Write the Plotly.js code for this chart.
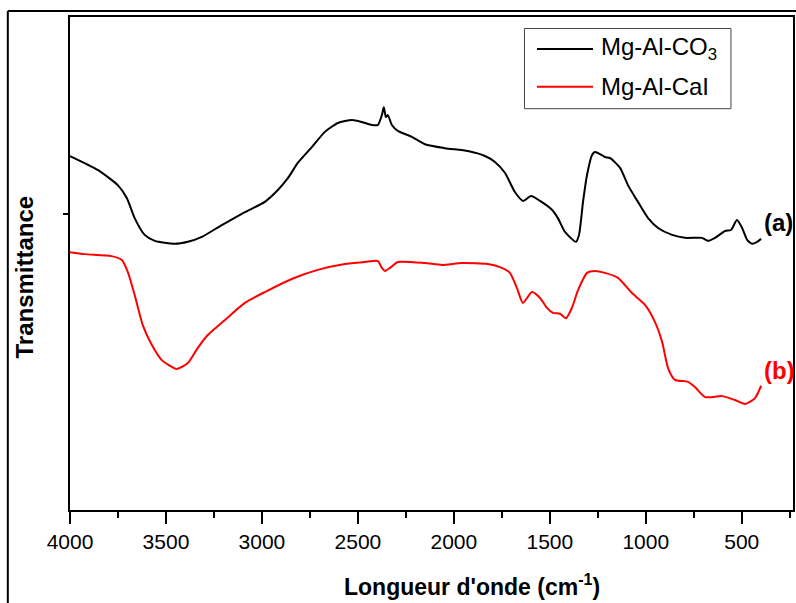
<!DOCTYPE html>
<html><head><meta charset="utf-8">
<script src="https://cdn.plot.ly/plotly-3.0.1.min.js"></script>
<style>html,body{margin:0;padding:0;background:#fff}#chart{width:796px;height:603px}</style>
</head><body><div id="chart"></div>
<script>
// Mg-Al-CO3 (a)
const waveA = [4000,3856,3751,3704,3663,3611,3558,3454,3386,3313,3209,3089,2985,2917,2865,2813,2740,2672,2604,2531,2479,2427,2396,2375,2365,2354,2344,2323,2292,2219,2151,2047,1927,1838,1786,1734,1682,1640,1598,1551,1489,1458,1421,1364,1348,1327,1306,1280,1265,1249,1213,1187,1134,1093,1041,988,936,863,796,707,676,639,587,556,525,498,472,446,420,399];
const transA = [71.8,69.0,65.9,63.3,59.2,55.8,54.6,54.0,54.4,55.4,57.8,60.4,62.5,64.9,67.3,70.4,73.6,76.7,78.5,79.1,78.7,78.1,78.1,80.1,81.7,79.7,80.1,78.1,76.9,75.7,74.2,73.4,72.8,71.8,70.6,68.4,64.5,62.7,63.7,62.7,60.9,59.2,56.4,54.4,55.8,62.5,68.0,72.0,72.6,72.4,71.6,71.4,69.4,65.9,62.5,59.2,57.2,55.8,55.2,55.2,54.6,55.2,56.6,56.8,58.8,57.2,54.8,54.0,54.4,55.0];
// Mg-Al-Cal (b)
const waveB = [4000,3923,3783,3730,3699,3663,3621,3574,3522,3444,3386,3334,3282,3194,3089,2985,2829,2709,2568,2464,2396,2375,2359,2333,2292,2151,2062,1958,1823,1750,1708,1671,1640,1593,1551,1515,1484,1447,1416,1385,1353,1306,1265,1213,1145,1072,1004,952,915,884,848,780,743,691,603,535,483,431,399];
const transB = [52.3,51.9,51.5,50.7,48.3,43.6,37.5,33.5,30.4,28.6,29.8,32.9,35.5,38.5,42.0,44.2,47.1,48.7,49.9,50.3,50.5,49.1,48.5,49.1,50.3,50.1,49.7,50.1,49.9,49.1,48.1,45.0,42.0,44.2,43.0,41.0,40.0,39.8,38.9,41.0,44.6,48.1,48.5,48.1,47.1,44.0,41.6,38.1,34.1,28.8,26.4,26.0,24.9,22.9,23.1,22.3,21.5,22.7,25.2];
const seriesNames = ['Mg-Al-CO<sub>3</sub>','Mg-Al-CaI'];
const seriesColors = ['#000000','#ff0000'];
const curveLabels = ['<b>(a)</b>','<b>(b)</b>'];
const xTickVals = [4000,3500,3000,2500,2000,1500,1000,500];
const xTickText = ['4000','3500','3000','2500','2000','1500','1000','500'];
const yTickVals = [60];

const F = 'Arial, "Liberation Sans", sans-serif';
const traces = [
  {x: waveA, y: transA, type:'scatter', mode:'lines', name: seriesNames[0], line:{color:seriesColors[0], width:2, shape:'spline', smoothing:0.6}},
  {x: waveB, y: transB, type:'scatter', mode:'lines', name: seriesNames[1], line:{color:seriesColors[1], width:2, shape:'spline', smoothing:0.6}}
];

// legend drawn in paper coordinates
const legX0 = 0.6286, legX1 = 0.9142, legY0 = 0.814, legY1 = 0.9767;
const legRows = [0.9351, 0.8586];
const shapes = [
  {type:'line', xref:'paper', yref:'paper', x0:-0.086, x1:1.1, y0:1.0122, y1:1.0122, line:{color:'#000', width:2}},
  {type:'line', xref:'paper', yref:'paper', x0:-0.086, x1:-0.086, y0:1.0122, y1:-0.3, line:{color:'#000', width:2}},
  {type:'rect', xref:'paper', yref:'paper', x0:legX0, x1:legX1, y0:legY0, y1:legY1, line:{color:'#444', width:1}, fillcolor:'#fff', layer:'above'}
];
const annotations = [
  {x:394, y:58.4, xref:'x', yref:'y', text:curveLabels[0], showarrow:false, xanchor:'left', yanchor:'middle', font:{family:F, size:24, color:seriesColors[0]}},
  {x:397, y:28.2, xref:'x', yref:'y', text:curveLabels[1], showarrow:false, xanchor:'left', yanchor:'middle', font:{family:F, size:24, color:seriesColors[1]}},
  {x:0.556, y:-0.153, xref:'paper', yref:'paper', text:"<b>Longueur d'onde (cm<sup>-1</sup>)</b>", showarrow:false, xanchor:'center', yanchor:'middle', font:{family:F, size:23, color:'#000'}},
  {x:-0.0636, y:0.4716, xref:'paper', yref:'paper', text:'<b>Transmittance</b>', textangle:-90, showarrow:false, xanchor:'center', yanchor:'middle', font:{family:F, size:24, color:'#000'}}
];
for (let i = 0; i < 2; i++) {
  shapes.push({type:'line', xref:'paper', yref:'paper', x0:0.6459, x1:0.7234, y0:legRows[i], y1:legRows[i], line:{color:seriesColors[i], width:2}, layer:'above'});
  annotations.push({x:0.7317, y:legRows[i], xref:'paper', yref:'paper', text:seriesNames[i], showarrow:false, xanchor:'left', yanchor:'middle', font:{family:F, size:24, color:'#000'}});
}

const layout = {
  width:796, height:603,
  margin:{l:70, r:3, t:17, b:93},
  paper_bgcolor:'#fff', plot_bgcolor:'#fff',
  showlegend:false,
  xaxis:{range:[4000,233], tickvals:xTickVals, ticktext:xTickText, ticks:'outside', ticklen:12, tickwidth:2, tickcolor:'#000',
         showline:true, linewidth:2, linecolor:'#000', mirror:true, showgrid:false, zeroline:false,
         tickfont:{family:F, size:21, color:'#000'},
         minor:{dtick:250, tick0:0, ticks:'outside', ticklen:6, tickwidth:2, tickcolor:'#000', showgrid:false}},
  yaxis:{range:[0,100], tickvals:yTickVals, showticklabels:false, ticks:'outside', ticklen:5, tickwidth:2, tickcolor:'#000',
         showline:true, linewidth:2, linecolor:'#000', mirror:true, showgrid:false, zeroline:false},
  annotations: annotations,
  shapes: shapes
};
Plotly.newPlot('chart', traces, layout, {displayModeBar:false, staticPlot:true});
</script></body></html>
